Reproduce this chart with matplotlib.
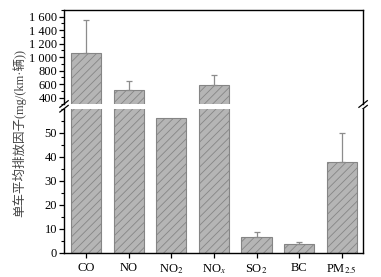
import numpy as np
import matplotlib
matplotlib.use("Agg")
import matplotlib.pyplot as plt

plt.rcParams['font.family'] = ['Liberation Serif', 'Noto Sans CJK SC']
plt.rcParams['hatch.color'] = '#8a8a8a'
plt.rcParams['hatch.linewidth'] = 0.6
plt.rcParams['mathtext.fontset'] = 'stix'

species = ['CO', 'NO', 'NO$_2$', 'NO$_x$', 'SO$_2$', 'BC', 'PM$_{2.5}$']
ef_mean = [1060, 510, 56, 585, 6.8, 3.7, 38]
ef_err = [490, 140, 0, 145, 1.7, 1.0, 12]
upper_ticks = [400, 600, 800, 1000, 1200, 1400, 1600]
upper_labels = ['400', '600', '800', '1 000', '1 200', '1 400', '1 600']
lower_ticks = [0, 10, 20, 30, 40, 50]

x = np.arange(len(species))
fig = plt.figure(figsize=(3.81, 2.77), dpi=100)
gs = fig.add_gridspec(2, 1, height_ratios=[95, 145], hspace=0.035,
                      left=0.168, right=0.953, top=0.964, bottom=0.087)
ax_top = fig.add_subplot(gs[0])
ax_bot = fig.add_subplot(gs[1], sharex=ax_top)

err = np.array(ef_err, dtype=float)
yerr = np.vstack([np.zeros_like(err), err])
for ax in (ax_top, ax_bot):
    ax.bar(x, ef_mean, width=0.71, color='#b5b5b5', edgecolor='#858585',
           linewidth=0.8, hatch='////', zorder=2)
    ax.errorbar(x, ef_mean, yerr=np.where(err > 0, yerr, np.nan),
                fmt='none', ecolor='#8c8c8c', elinewidth=0.9,
                capsize=2.5, capthick=0.9, zorder=3)
    for s in ax.spines.values():
        s.set_linewidth(1.0)
    ax.tick_params(axis='both', direction='out', length=3.5, width=0.9,
                   labelsize=9, pad=1.5, right=False, top=False)
    ax.tick_params(which='minor', direction='out', length=2, width=0.8)

ax_top.set_ylim(300, 1700)
ax_top.set_yticks(upper_ticks)
ax_top.set_yticklabels(upper_labels)
ax_top.set_yticks(np.arange(300, 1701, 100), minor=True)
ax_top.spines['bottom'].set_visible(False)
ax_top.tick_params(axis='x', which='both', bottom=False, labelbottom=False)

ax_bot.set_ylim(0, 60)
ax_bot.set_yticks(lower_ticks)
ax_bot.set_yticks(np.arange(0, 61, 5), minor=True)
ax_bot.spines['top'].set_visible(False)
ax_bot.set_xlim(-0.52, 6.5)
ax_bot.set_xticks(x)
ax_bot.set_xticklabels(species)
ax_bot.tick_params(axis='x', which='minor', bottom=False)
ax_bot.tick_params(axis='x', pad=3)

# break marks
d = 0.014
kw = dict(color='k', linewidth=0.9, clip_on=False)
for xs in (0, 1):
    ax_top.plot([xs - d, xs + d], [-0.03, 0.04], transform=ax_top.transAxes, **kw)
    ax_top.plot([xs - d, xs + d], [-0.08, -0.01], transform=ax_top.transAxes, **kw)

fig.text(0.05, 0.52, '单车平均排放因子(mg/(km·辆))', rotation=90,
         ha='center', va='center', fontsize=9, color='#444444')

fig.savefig('out.png', dpi=100)
